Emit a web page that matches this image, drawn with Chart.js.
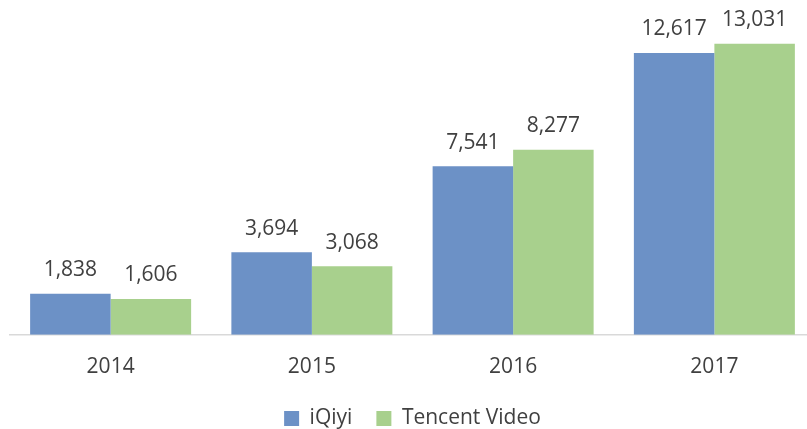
<!DOCTYPE html>
<html><head><meta charset="utf-8">
<script src="https://cdn.jsdelivr.net/npm/chart.js@4/dist/chart.umd.min.js"></script>
<style>
html,body{margin:0;padding:0;background:#fff;overflow:hidden;}
#wrap{width:816px;height:439px;}
</style></head>
<body><div id="wrap"><canvas id="c"></canvas></div>
<script>
const categories = ["2014", "2015", "2016", "2017"];
const seriesNames = ["iQiyi", "Tencent Video"];
const iqiyi = [1838, 3694, 7541, 12617];
const tencent = [1606, 3068, 8277, 13031];
const yMax = 14000;

const FONT = "'Open Sans', 'Liberation Sans', sans-serif";
const labelPlugin = {
  id: 'barLabels',
  afterDatasetsDraw(chart) {
    const ctx = chart.ctx;
    ctx.save();
    ctx.font = "21px " + FONT;
    ctx.fillStyle = "#404040";
    ctx.textAlign = "center";
    ctx.textBaseline = "alphabetic";
    chart.data.datasets.forEach((ds, i) => {
      chart.getDatasetMeta(i).data.forEach((bar, j) => {
        ctx.fillText(ds.data[j].toLocaleString('en-US'), bar.x, bar.y - 17.5);
      });
    });
    ctx.restore();
  }
};

new Chart(document.getElementById('c'), {
  type: 'bar',
  data: {
    labels: categories,
    datasets: [
      { label: seriesNames[0], data: iqiyi, backgroundColor: '#6C91C6', categoryPercentage: 0.8, barPercentage: 1.0 },
      { label: seriesNames[1], data: tencent, backgroundColor: '#A8D08D', categoryPercentage: 0.8, barPercentage: 1.0 }
    ]
  },
  options: {
    responsive: true,
    maintainAspectRatio: false,
    animation: false,
    layout: { padding: { left: 10, right: 1, top: 22, bottom: 0 } },
    plugins: {
      legend: {
        position: 'bottom',
        labels: { boxWidth: 15, boxHeight: 15, color: '#404040', font: { size: 21, family: FONT }, padding: 24 }
      },
      tooltip: { enabled: false }
    },
    scales: {
      x: {
        grid: { display: false },
        border: { display: true, color: '#D9D9D9', width: 1.5 },
        ticks: { color: '#404040', font: { size: 21, family: FONT }, padding: 12 },
        afterFit: s => { s.height -= 8; }
      },
      y: { display: false, min: 0, max: yMax }
    }
  },
  plugins: [labelPlugin]
});
</script></body></html>
